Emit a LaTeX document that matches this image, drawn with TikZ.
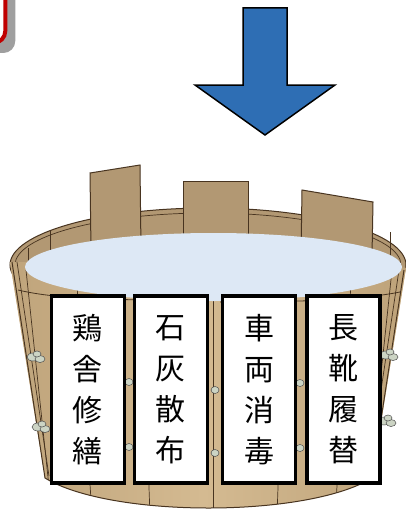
\documentclass[tikz,border=0pt]{standalone}
\usepackage{fontspec}
\newfontfamily\jpfont{Noto Sans CJK JP}
\definecolor{stavecol}{RGB}{178,152,115}
\definecolor{bodycol}{RGB}{212,186,145}
\definecolor{bodydark}{RGB}{190,163,122}
\definecolor{woodline}{RGB}{72,52,32}
\definecolor{watercol}{RGB}{221,232,245}
\definecolor{ropecol}{RGB}{204,212,196}
\definecolor{arrowblue}{RGB}{46,110,180}
\definecolor{framered}{RGB}{192,0,0}
\begin{document}
\begin{tikzpicture}[x=1pt,y=-1pt,
  woodedge/.style={draw=woodline, line width=1pt},
  staveline/.style={draw=woodline, line width=0.7pt},
  tag/.style={draw=black, line width=3.5pt, fill=white, minimum width=73pt,
    minimum height=187pt, inner sep=0pt, align=center,
    font=\jpfont\fontsize{30}{41}\selectfont},
  knot/.style={fill=ropecol, draw=gray!60!black, line width=0.5pt}]
\useasboundingbox (0,0) rectangle (406,511);

% framed panel at the top left, with its drop shadow
\fill[gray!75, rounded corners=12pt] (-60,-60) rectangle (15.3,53);
\draw[framered, fill=white, line width=4pt, rounded corners=12pt] (-60,-60) rectangle (5.3,43);

% downward arrow
\draw[fill=arrowblue, draw=black, line width=1.5pt, line join=miter]
  (243,8) -- (287,8) -- (287,85) -- (335,85) -- (265,135) -- (195,85) -- (243,85) -- cycle;

% back rim of the tub
\filldraw[fill=stavecol, woodedge] (208,265) ellipse [x radius=198, y radius=57];
\draw[staveline] (15,265) arc [start angle=180, end angle=360, x radius=193, y radius=52];

% staves rising above the rim
\filldraw[fill=stavecol, woodedge] (90,173) -- (140,165) -- (141,250) -- (91,250) -- cycle;
\filldraw[fill=stavecol, woodedge] (183,181) -- (248,181) -- (248,250) -- (183,250) -- cycle;
\filldraw[fill=stavecol, woodedge] (302,190) -- (373,202) -- (372,255) -- (301,255) -- cycle;
\foreach \x/\yt in {50/230, 28/248, 390/232} \draw[staveline] (\x,\yt) -- (\x,\yt+40);

% front wall of the tub
\path[fill=bodycol] (10,262) -- (45,478) .. controls (110,518) and (307,518) .. (372,478) -- (406,268) -- cycle;
\begin{scope}
  \clip (10,262) -- (45,478) .. controls (110,518) and (307,518) .. (372,478) -- (406,268) -- cycle;
  \shade[left color=bodydark, right color=bodydark, middle color=bodycol] (0,255) rectangle (406,520);
  \foreach \xt/\xb in {26/52, 76/92, 141/150, 213/213, 286/277, 352/335, 392/366}
    \draw[staveline] (\xt,270) -- (\xb,515);
  \draw[woodline, line width=0.8pt] (18,290) .. controls (60,300) and (120,300) .. (200,300);
  \draw[woodline, line width=0.8pt] (400,292) .. controls (360,300) and (300,302) .. (220,302);
\end{scope}
\draw[woodedge] (12,262) -- (45,478) .. controls (110,518) and (307,518) .. (372,478) -- (404,270);
\draw[staveline] (17,262) -- (49,476);
\draw[staveline] (399,270) -- (368,477);

% water surface
\fill[watercol] (213.5,267) ellipse [x radius=188.5, y radius=34];

% rope knots of the two hoops: large ones on the sides, small ones between the tags
\foreach \kx/\ky in {37/357, 42/427, 390/355, 388/421} {
  \filldraw[knot] (\kx-4,\ky) ellipse [x radius=6, y radius=4];
  \filldraw[knot] (\kx+3,\ky+2) ellipse [x radius=5, y radius=3.5];
  \filldraw[knot] (\kx,\ky-3) ellipse [x radius=4, y radius=3];
}
\foreach \kx/\ky in {129/382, 129/447, 215/390, 215/453, 300/383, 300/448} {
  \filldraw[knot] (\kx,\ky) ellipse [x radius=4, y radius=3.5];
}

% labelled tags
\node[tag] (t1) at (87.75,389.25) {鶏\\舎\\修\\繕};
\node[tag] (t2) at (170.75,389.25) {石\\灰\\散\\布};
\node[tag] (t3) at (259,389.25) {車\\両\\消\\毒};
\node[tag] (t4) at (343.5,389.25) {長\\靴\\履\\替};
\end{tikzpicture}
\end{document}
